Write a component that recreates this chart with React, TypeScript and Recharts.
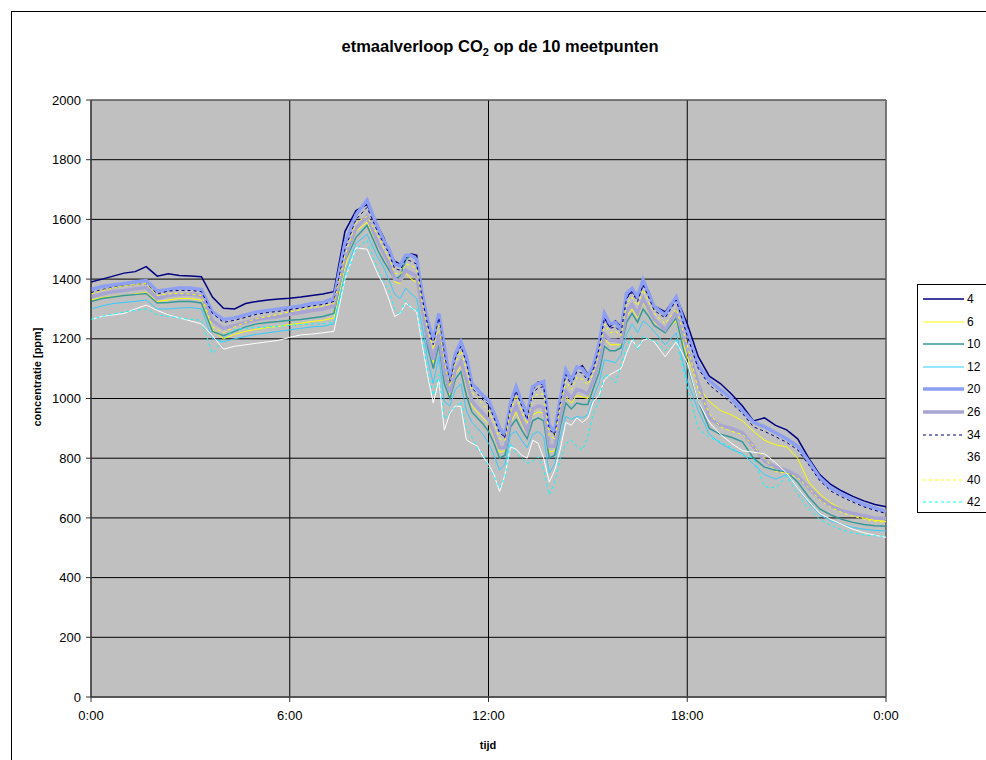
import { LineChart, Line, XAxis, YAxis, CartesianGrid, ReferenceArea, Label } from "recharts";

// sample clock, minutes after midnight (20 min steps, 10 min steps between 8:40 and 17:00)
const minutes = [
  0, 20, 40, 60, 80, 100, 120, 140, 160, 180, 200, 220, 240, 260, 280, 300, 320, 340, 360, 380, 400, 420, 440, 460, 480, 500,
  520, 530, 540, 550, 560, 570, 580, 590, 600, 610, 620, 630, 640, 650, 660, 670, 680, 690, 700, 710, 720, 730, 740, 750,
  760, 770, 780, 790, 800, 810, 820, 830, 840, 850, 860, 870, 880, 890, 900, 910, 920, 930, 940, 950, 960, 970, 980, 990,
  1000, 1010, 1020,
  1040, 1060, 1080, 1100, 1120, 1140, 1160, 1180, 1200, 1220, 1240, 1260, 1280, 1300, 1320, 1340, 1360, 1380, 1400, 1420, 1440,
];

const xTicks = [0, 360, 720, 1080, 1440];
const yTicks = [0, 200, 400, 600, 800, 1000, 1200, 1400, 1600, 1800, 2000];

// CO2 per meetpunt [ppm]
const mp4 = [
  1390, 1400, 1410, 1420, 1425, 1442, 1410, 1418, 1412, 1410, 1408, 1340, 1302, 1300, 1318, 1325, 1330, 1333, 1336, 1340, 1345, 1350, 1358, 1560, 1630, 1650,
  1575, 1540, 1490, 1460, 1450, 1470, 1485, 1480, 1330, 1250, 1205, 1280, 1165, 1070, 1140, 1195, 1130, 1045, 1035, 1005, 990, 955, 905, 870,
  975, 1030, 995, 950, 1030, 1055, 1045, 915, 880, 990, 1085, 1070, 1100, 1110, 1080, 1100, 1170, 1270, 1240, 1260, 1240, 1340, 1360, 1335, 1380, 1360, 1310,
  1290, 1340, 1250, 1140, 1075, 1050, 1015, 975, 925, 935, 910, 895, 865, 800, 745, 712, 690, 672, 657, 645, 637,
];
const mp6 = [
  1330, 1338, 1342, 1345, 1350, 1355, 1325, 1330, 1335, 1335, 1330, 1230, 1200, 1215, 1225, 1232, 1238, 1242, 1248, 1252, 1258, 1262, 1270, 1440, 1560, 1590,
  1510, 1475, 1440, 1390, 1385, 1420, 1400, 1390, 1290, 1190, 1120, 1200, 1070, 1010, 1080, 1110, 1040, 975, 955, 935, 915, 870, 820, 825,
  920, 955, 915, 880, 945, 955, 950, 820, 825, 925, 1005, 985, 1010, 1005, 1000, 1050, 1105, 1200, 1180, 1180, 1180, 1275, 1300, 1270, 1320, 1290, 1255,
  1230, 1260, 1140, 1040, 990, 960, 945, 925, 890, 860, 845, 838, 800, 720, 680, 650, 630, 612, 600, 592, 588,
];
const mp10 = [
  1325, 1335, 1340, 1345, 1348, 1352, 1320, 1322, 1325, 1325, 1320, 1225, 1210, 1225, 1240, 1250, 1255, 1258, 1262, 1265, 1270, 1275, 1285, 1460, 1540, 1580,
  1495, 1460, 1430, 1400, 1410, 1465, 1480, 1470, 1300, 1170, 1100, 1180, 1050, 1000, 1065, 1090, 1010, 955, 935, 915, 890, 850, 800, 810,
  905, 930, 895, 865, 925, 935, 925, 800, 810, 905, 985, 965, 985, 980, 980, 1035, 1085, 1175, 1160, 1160, 1170, 1255, 1285, 1255, 1300, 1275, 1245,
  1220, 1270, 1110, 990, 900, 880, 870, 855, 800, 770, 760, 755, 720, 670, 630, 610, 595, 585, 578, 574, 572,
];
const mp12 = [
  1300, 1310, 1318, 1322, 1325, 1330, 1300, 1300, 1303, 1305, 1300, 1200, 1190, 1200, 1208, 1215, 1220, 1225, 1230, 1235, 1240, 1242, 1250, 1420, 1520, 1550,
  1470, 1440, 1395, 1350, 1335, 1370, 1350, 1335, 1240, 1130, 1050, 1140, 990, 975, 1030, 1050, 960, 920, 900, 880, 850, 810, 760, 780,
  880, 890, 860, 835, 880, 890, 870, 750, 780, 870, 940, 930, 940, 935, 945, 1005, 1050, 1130, 1125, 1120, 1145, 1215, 1250, 1220, 1260, 1245, 1225,
  1180, 1220, 1060, 960, 880, 850, 830, 815, 780, 745, 730, 745, 700, 650, 610, 590, 578, 568, 562, 558, 556,
];
const mp20 = [
  1365, 1375, 1380, 1385, 1390, 1395, 1360, 1365, 1370, 1370, 1365, 1290, 1265, 1270, 1280, 1290, 1295, 1300, 1305, 1310, 1318, 1322, 1335, 1520, 1615, 1665,
  1570, 1530, 1500, 1450, 1445, 1480, 1480, 1465, 1350, 1260, 1195, 1285, 1175, 1060, 1150, 1190, 1140, 1050, 1030, 1010, 995, 950, 900, 880,
  985, 1040, 990, 940, 1040, 1050, 1057, 910, 890, 1000, 1096, 1060, 1106, 1100, 1073, 1110, 1180, 1285, 1250, 1255, 1230, 1352, 1369, 1341, 1397, 1352, 1308,
  1280, 1340, 1220, 1110, 1060, 1030, 1000, 960, 920, 905, 885, 865, 840, 790, 735, 700, 680, 662, 645, 633, 622,
];
const mp26 = [
  1340, 1350, 1358, 1362, 1368, 1372, 1335, 1345, 1348, 1350, 1345, 1260, 1235, 1245, 1255, 1265, 1270, 1275, 1282, 1288, 1295, 1300, 1310, 1470, 1570, 1610,
  1520, 1485, 1450, 1400, 1395, 1430, 1420, 1410, 1300, 1200, 1130, 1215, 1090, 1020, 1095, 1125, 1060, 990, 970, 950, 930, 885, 835, 835,
  935, 975, 930, 890, 965, 975, 970, 840, 840, 940, 1025, 1000, 1030, 1025, 1015, 1060, 1120, 1215, 1195, 1195, 1190, 1290, 1315, 1285, 1335, 1300, 1265,
  1230, 1290, 1170, 1050, 935, 910, 900, 885, 840, 790, 770, 760, 740, 700, 665, 640, 625, 615, 607, 600, 598,
];
const mp34 = [
  1355, 1365, 1372, 1378, 1382, 1385, 1350, 1360, 1362, 1362, 1358, 1285, 1255, 1262, 1272, 1282, 1288, 1292, 1298, 1303, 1310, 1315, 1325, 1500, 1600, 1640,
  1555, 1520, 1485, 1435, 1430, 1465, 1460, 1450, 1335, 1245, 1180, 1270, 1150, 1050, 1135, 1175, 1120, 1035, 1015, 995, 980, 935, 885, 870,
  970, 1025, 975, 930, 1020, 1035, 1040, 895, 880, 985, 1080, 1045, 1090, 1085, 1060, 1100, 1165, 1270, 1235, 1240, 1220, 1335, 1355, 1325, 1380, 1340, 1295,
  1270, 1330, 1210, 1100, 1045, 1015, 985, 950, 905, 890, 872, 853, 828, 778, 725, 690, 670, 653, 637, 625, 615,
];
const mp36 = [
  1265, 1275, 1280, 1285, 1300, 1313, 1295, 1280, 1270, 1260, 1250, 1210, 1165, 1175, 1180, 1185, 1190, 1195, 1205, 1213, 1216, 1220, 1225, 1400, 1505, 1500,
  1415, 1380, 1330, 1275, 1285, 1320, 1305, 1290, 1180, 1073, 985, 1062, 894, 950, 975, 973, 861, 850, 840, 805, 780, 745, 688, 745,
  838, 830, 810, 800, 860, 850, 800, 720, 760, 830, 920, 910, 935, 920, 935, 990, 1010, 1062, 1080, 1090, 1100, 1151, 1196, 1170, 1196, 1200, 1190,
  1140, 1190, 1120, 990, 920, 880, 850, 825, 820, 815, 785, 750, 700, 655, 615, 595, 578, 562, 550, 542, 535,
];
const mp40 = [
  1350, 1362, 1370, 1378, 1382, 1385, 1345, 1350, 1352, 1350, 1345, 1240, 1220, 1240, 1255, 1268, 1275, 1282, 1290, 1298, 1305, 1310, 1318, 1480, 1590, 1610,
  1545, 1505, 1470, 1420, 1415, 1450, 1445, 1435, 1320, 1230, 1165, 1250, 1130, 1040, 1120, 1160, 1100, 1020, 1000, 980, 960, 920, 865, 860,
  960, 1010, 960, 915, 1005, 1015, 1015, 875, 865, 970, 1060, 1030, 1070, 1065, 1045, 1085, 1150, 1250, 1220, 1225, 1210, 1320, 1340, 1310, 1365, 1325, 1285,
  1250, 1300, 1180, 1030, 950, 905, 890, 880, 840, 800, 755, 750, 735, 700, 660, 635, 618, 605, 596, 589, 585,
];
const mp42 = [
  1265, 1275, 1283, 1290, 1295, 1300, 1280, 1275, 1270, 1265, 1262, 1150, 1200, 1230, 1235, 1238, 1240, 1242, 1245, 1248, 1250, 1250, 1255, 1400, 1500, 1530,
  1430, 1395, 1360, 1300, 1280, 1330, 1300, 1300, 1200, 1090, 1010, 1080, 930, 955, 970, 990, 900, 870, 830, 815, 770, 740, 700, 738,
  850, 817, 800, 783, 790, 805, 760, 677, 720, 800, 850, 861, 840, 827, 872, 951, 990, 1080, 1073, 1052, 1110, 1170, 1210, 1163, 1210, 1196, 1195,
  1160, 1200, 1040, 900, 870, 855, 835, 810, 800, 705, 700, 740, 680, 630, 595, 575, 560, 550, 543, 540, 538,
];

const series = [
  { name: "4", values: mp4, color: "#000080", width: 1.5, dash: undefined },
  { name: "6", values: mp6, color: "#FFFF00", width: 1, dash: undefined },
  { name: "10", values: mp10, color: "#339999", width: 1.5, dash: undefined },
  { name: "12", values: mp12, color: "#33CCFF", width: 1, dash: undefined },
  { name: "20", values: mp20, color: "#8C9FF2", width: 3.5, dash: undefined },
  { name: "26", values: mp26, color: "#A9A5D3", width: 3.5, dash: undefined },
  { name: "34", values: mp34, color: "#000080", width: 1, dash: "3 3" },
  { name: "36", values: mp36, color: "#FFFFFF", width: 1, dash: undefined },
  { name: "40", values: mp40, color: "#FFFF00", width: 1, dash: "3 3" },
  { name: "42", values: mp42, color: "#00FFFF", width: 1, dash: "3 3" },
];

const rows = minutes.map((t, i) => {
  const row: Record<string, number> = { t };
  series.forEach((s) => {
    row["mp" + s.name] = s.values[i];
  });
  return row;
});

const font = "'Liberation Sans', Arial, sans-serif";

const fmtTime = (v: number) => `${Math.round(v / 60) % 24}:00`;

function LegendBox() {
  return (
    <div
      style={{
        position: "absolute",
        left: 917,
        top: 284,
        width: 90,
        height: 227,
        background: "#fff",
        border: "1px solid #000",
        fontFamily: font,
        fontSize: 12,
      }}
    >
      {series.map((s, i) => (
        <div
          key={s.name}
          style={{ position: "absolute", left: 0, top: 5 + i * 22.6, height: 18, display: "flex", alignItems: "center" }}
        >
          <svg width={47} height={18} style={{ display: "block" }}>
            <line
              x1={5}
              x2={46}
              y1={9}
              y2={9}
              stroke={s.color}
              strokeWidth={s.width}
              strokeDasharray={s.dash}
            />
          </svg>
          <span style={{ marginLeft: 2 }}>{s.name}</span>
        </div>
      ))}
    </div>
  );
}

const YTitle = () => (
  <text
    x={37}
    y={377}
    transform="rotate(-90 37 377)"
    textAnchor="middle"
    dominantBaseline="central"
    style={{ fontWeight: "bold", fontSize: 11, fill: "#000", fontFamily: font }}
  >
    concentratie [ppm]
  </text>
);

const XTitle = () => (
  <text
    x={488}
    y={745}
    textAnchor="middle"
    dominantBaseline="central"
    style={{ fontWeight: "bold", fontSize: 11, fill: "#000", fontFamily: font }}
  >
    tijd
  </text>
);

export default function App() {
  return (
    <div
      style={{
        position: "fixed",
        left: 0,
        top: 0,
        width: 986,
        height: 760,
        overflow: "hidden",
        background: "#fff",
        fontFamily: font,
      }}
    >
      {/* chart frame, only top and left edge are inside the window */}
      <div style={{ position: "absolute", left: 11, top: 11, width: 1100, height: 1, background: "#000" }} />
      <div style={{ position: "absolute", left: 11, top: 11, width: 1, height: 900, background: "#000" }} />
      <div
        style={{
          position: "absolute",
          left: 0,
          width: 1000,
          top: 36,
          textAlign: "center",
          fontWeight: "bold",
          fontSize: 16.5,
          lineHeight: "20px",
        }}
      >
        etmaalverloop CO<sub style={{ fontSize: 11, lineHeight: 0 }}>2</sub> op de 10 meetpunten
      </div>

      <div style={{ position: "absolute", left: 0, top: 0 }}>
        <LineChart
          width={986}
          height={760}
          data={rows}
          margin={{ top: 100, right: 100, bottom: 33, left: 41 }}
        >
          <CartesianGrid fill="#C0C0C0" stroke="#000" strokeOpacity={1} />
          <XAxis
            dataKey="t"
            type="number"
            domain={[0, 1440]}
            ticks={xTicks}
            tickFormatter={fmtTime}
            height={30}
            stroke="#333"
            tickSize={5}
            tickMargin={9}
            tick={{ fill: "#000", fontSize: 13, fontFamily: font }}
          >
            <Label content={<XTitle />} />
          </XAxis>
          <YAxis
            type="number"
            domain={[0, 2000]}
            ticks={yTicks}
            width={50}
            stroke="#333"
            tickSize={5}
            tickMargin={5}
            tick={{ fill: "#000", fontSize: 13, fontFamily: font }}
            interval={0}
          >
            <Label content={<YTitle />} />
          </YAxis>
          {series.map((s) => (
            <Line
              key={s.name}
              dataKey={"mp" + s.name}
              name={s.name}
              type="linear"
              stroke={s.color}
              strokeWidth={s.width}
              strokeDasharray={s.dash}
              dot={false}
              activeDot={false}
              isAnimationActive={false}
            />
          ))}
          <ReferenceArea x1={0} x2={1440} y1={0} y2={2000} fill="none" stroke="#808080" strokeWidth={1} />
        </LineChart>
      </div>

      <LegendBox />
    </div>
  );
}
